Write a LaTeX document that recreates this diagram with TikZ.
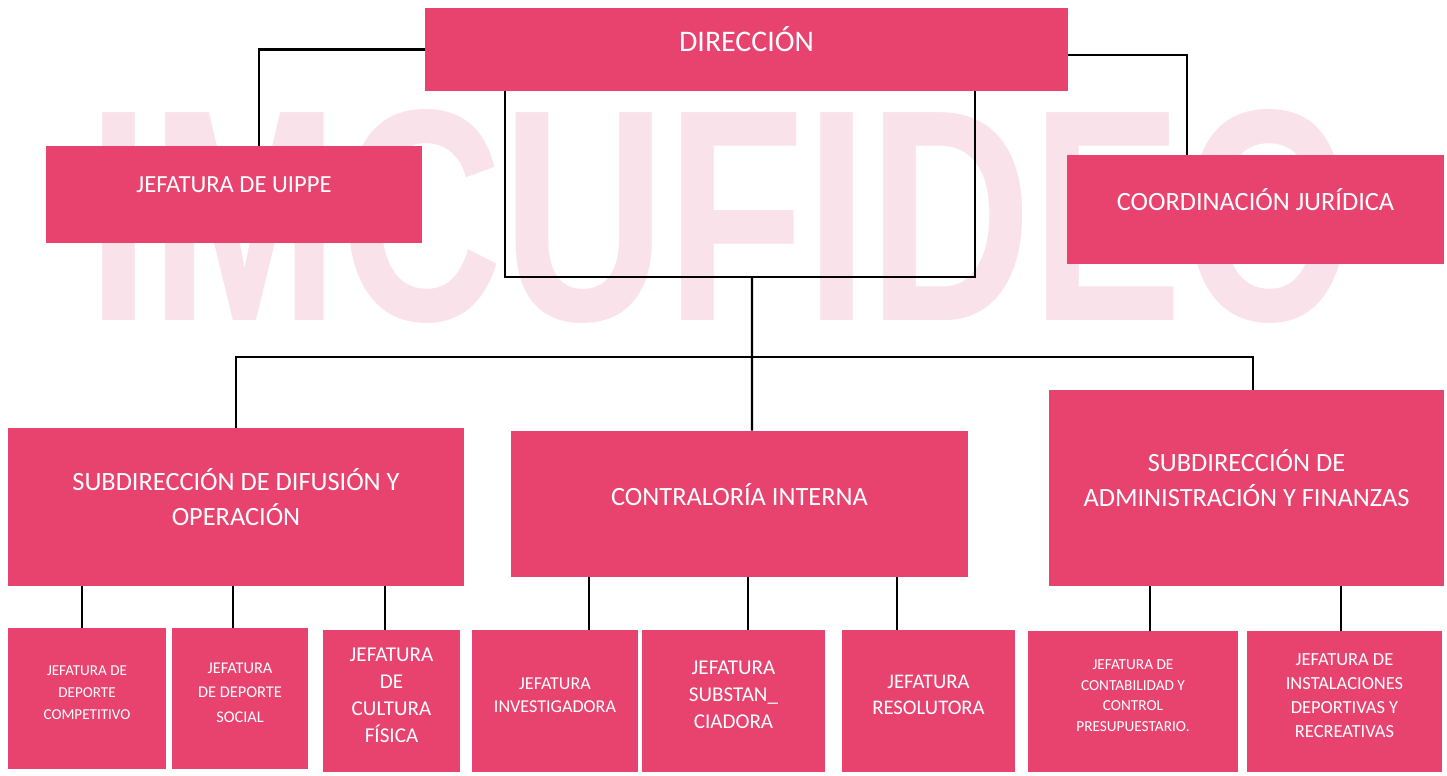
\documentclass[tikz,border=0pt]{standalone}
\usepackage{fontspec}
\setmainfont{Carlito}
\newfontfamily\wmfont{Liberation Sans}
\definecolor{imcpink}{HTML}{E8436F}
\definecolor{wmpink}{HTML}{FAE2EA}
\begin{document}
\begin{tikzpicture}[x=0.02cm, y=-0.02cm,
  unit/.style={fill=imcpink, text=white, align=center, inner sep=0pt, text depth=0.4cm, font=\fontsize{15}{19.5}\selectfont},
  jef/.style={unit, text depth=0.24cm},
  link/.style={line width=1.2pt}]
\useasboundingbox (0,0) rectangle (1447,775);

% watermark
\node (wm) at (717,216) [text=wmpink, font=\wmfont\bfseries\fontsize{172}{172}\selectfont] {\scalebox{0.75}[1]{IMCUFIDEC}};

\node (dir) at (746.5,49.5) [unit, minimum width=12.86cm, minimum height=1.66cm, font=\fontsize{17}{20}\selectfont] {DIRECCIÓN};

\node (uippe) at (234,194.5) [unit, minimum width=7.52cm, minimum height=1.94cm, font=\fontsize{14}{18}\selectfont] {JEFATURA DE UIPPE};
\node (coord) at (1255.5,209.5) [unit, minimum width=7.54cm, minimum height=2.18cm] {COORDINACIÓN JURÍDICA};

\node (difu) at (236,507) [unit, minimum width=9.12cm, minimum height=3.16cm] {SUBDIRECCIÓN DE DIFUSIÓN Y\\OPERACIÓN};
\node (contr) at (739.5,504) [unit, minimum width=9.14cm, minimum height=2.92cm] {CONTRALORÍA INTERNA};
\node (admin) at (1246.5,488) [unit, minimum width=7.9cm, minimum height=3.92cm] {SUBDIRECCIÓN DE\\ADMINISTRACIÓN Y FINANZAS};

\node (comp) at (87,698.5) [jef, minimum width=3.16cm, minimum height=2.82cm, font=\fontsize{8.6}{12.5}\selectfont] {JEFATURA DE\\DEPORTE\\COMPETITIVO};
\node (soc) at (240,698.5) [jef, minimum width=2.72cm, minimum height=2.82cm, font=\fontsize{9.3}{14}\selectfont] {JEFATURA\\DE DEPORTE\\SOCIAL};
\node (cult) at (391.5,701) [jef, minimum width=2.74cm, minimum height=2.84cm, font=\fontsize{12}{15.4}\selectfont] {JEFATURA\\DE\\CULTURA\\FÍSICA};
\node (inv) at (555,701) [jef, minimum width=3.32cm, minimum height=2.84cm, font=\fontsize{10.3}{13}\selectfont] {JEFATURA\\INVESTIGADORA};
\node (sust) at (733.5,701) [jef, minimum width=3.66cm, minimum height=2.84cm, font=\fontsize{12}{15.4}\selectfont] {JEFATURA\\SUBSTAN\_\\CIADORA};
\node (reso) at (928.5,701) [jef, minimum width=3.46cm, minimum height=2.84cm, font=\fontsize{11.8}{14.8}\selectfont] {JEFATURA\\RESOLUTORA};
\node (cont) at (1133,701.5) [jef, minimum width=4.2cm, minimum height=2.82cm, font=\fontsize{8.7}{11.8}\selectfont] {JEFATURA DE\\CONTABILIDAD Y\\CONTROL\\PRESUPUESTARIO.};
\node (inst) at (1344.5,701.5) [jef, minimum width=3.9cm, minimum height=2.82cm, font=\fontsize{10.5}{13.7}\selectfont] {JEFATURA DE\\INSTALACIONES\\DEPORTIVAS Y\\RECREATIVAS};

\coordinate (jn) at (752,277);
\coordinate (bus) at (752,357);

\draw [link] (dir.west) -| ([xshift=0.5cm]uippe.north);
\draw [link] ([yshift=-0.11cm]dir.east) -| ([xshift=-1.37cm]coord.north);
\draw [link] ([xshift=-4.83cm]dir.south) |- (jn) -| ([xshift=4.57cm]dir.south);
\draw [link] (jn) -- ([xshift=0.25cm]contr.north);
\draw [link] (difu.north) |- (bus) -| ([xshift=0.13cm]admin.north);

\foreach \p/\c/\x in {difu/comp/82, difu/soc/233, difu/cult/385, contr/inv/589, contr/sust/748, contr/reso/897, admin/cont/1150, admin/inst/1341}{
  \coordinate (tx) at (\x,0);
  \draw [link] (\p.south -| tx) -- (\c.north -| tx);
}

\end{tikzpicture}
\end{document}
